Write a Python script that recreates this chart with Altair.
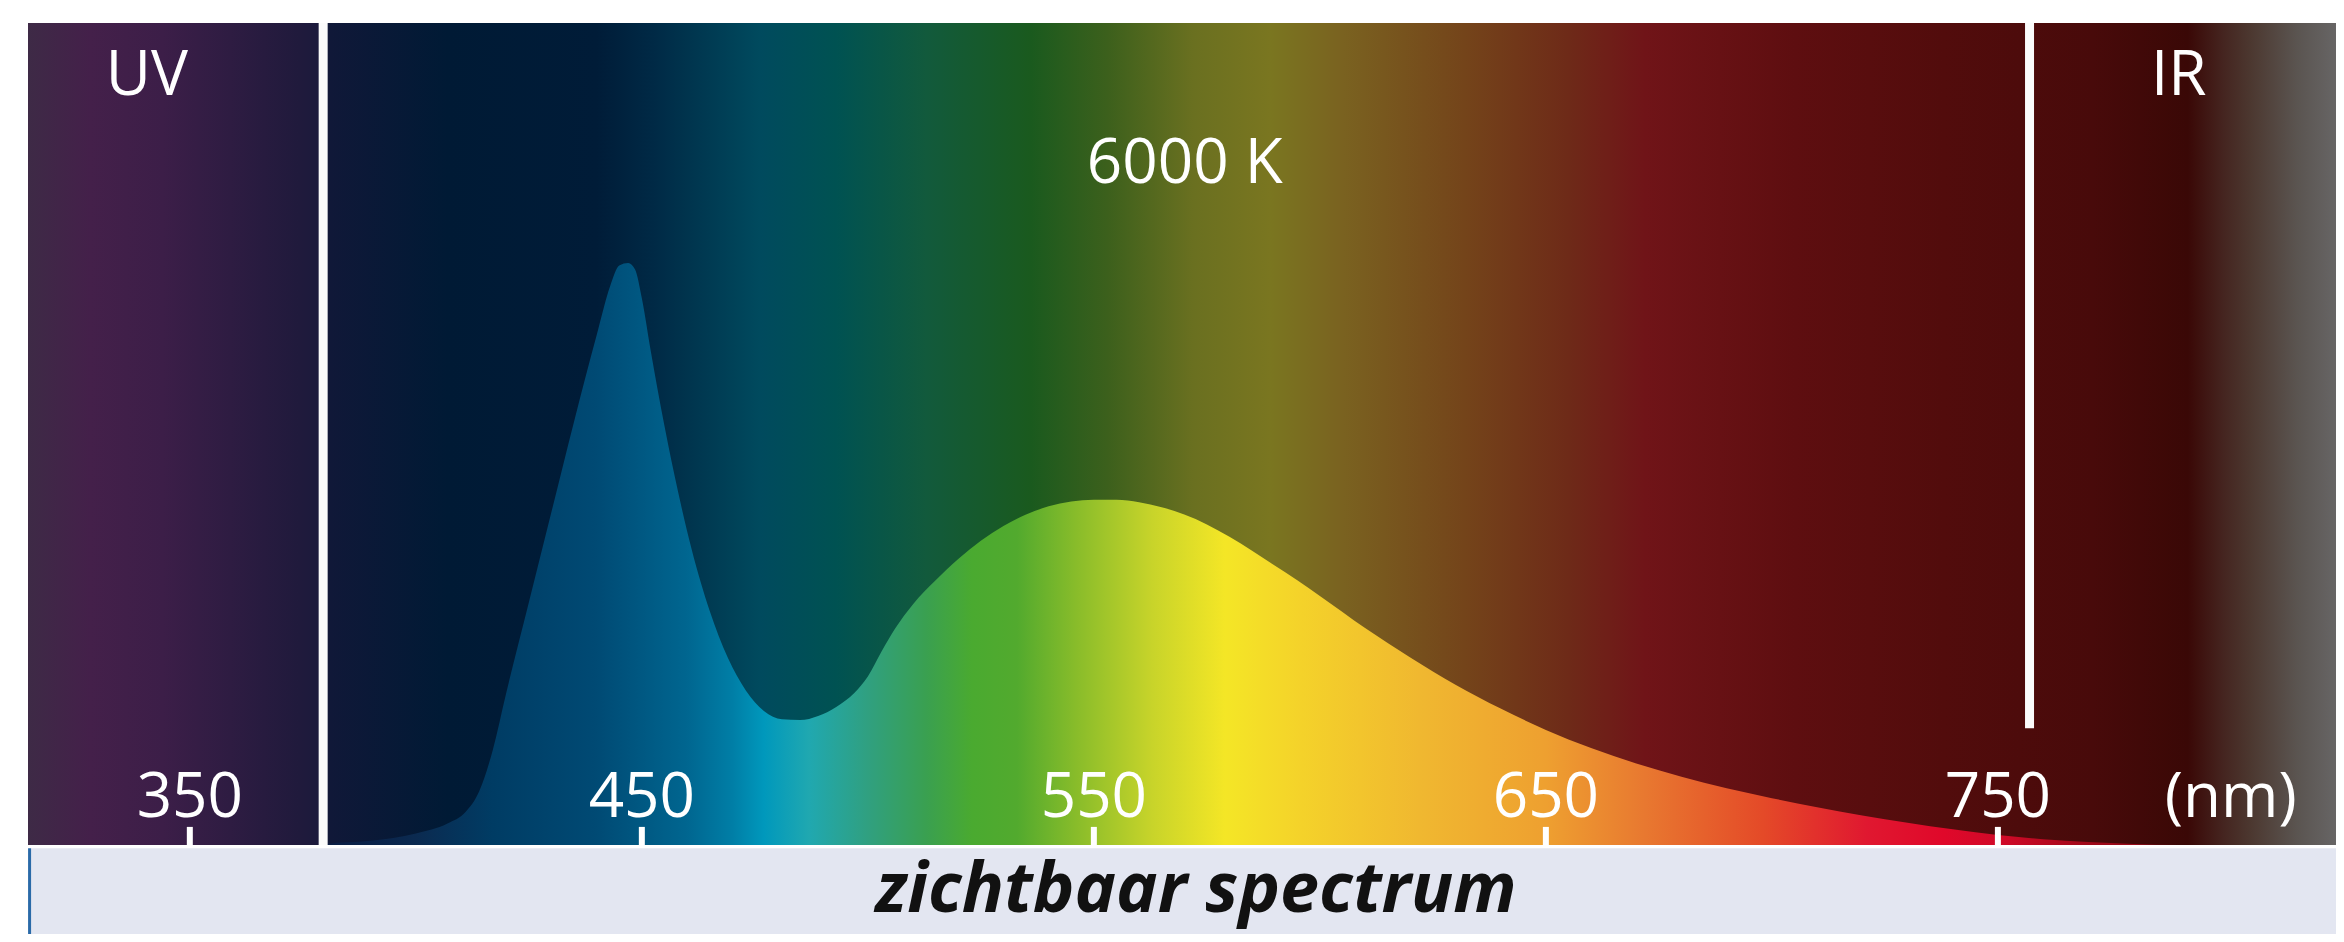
import altair as alt
import pandas as pd

# ---------------- data ----------------
x_domain = [314.2, 824.8]          # wavelength range shown (nm)
y_domain = [-10.83, 100]           # relative intensity (band below 0)

tick_values = [350, 450, 550, 650, 750]
tick_labels = ["350", "450", "550", "650", "750"]
tick_bottom, tick_top, tick_label_val = -0.24, 2.2, 3.4

uv_limit = 379.5
ir_limit = 757.0
ir_line_bottom = 14.2

curve_nm = [314.2, 379.5, 380, 390, 400, 407, 411, 414, 417, 420, 425, 430, 435, 440,
            443, 445, 447, 448.5, 450, 452, 455, 458, 461, 465, 469, 473, 477, 481,
            485, 489, 493, 497, 500, 503, 506, 510, 515, 520, 525, 530, 535, 540,
            545, 550, 555, 560, 565, 570, 575, 580, 585, 590, 595, 600, 610, 620,
            630, 640, 650, 660, 670, 680, 690, 700, 710, 720, 730, 740, 750, 760,
            770, 780, 790, 824.8]
curve_val = [0, 0, 0.1, 0.5, 1.4, 2.6, 4.0, 6.5, 11.5, 18.5, 29.5, 40.5, 51.5, 62.0,
             68.0, 70.5, 70.8, 70.0, 66.5, 60.0, 51.0, 43.0, 36.0, 28.5, 22.8, 18.8, 16.3, 15.3,
             15.2, 15.7, 16.8, 18.5, 20.5, 23.5, 26.3, 29.3, 32.2, 34.8, 37.0, 38.8, 40.2, 41.2,
             41.8, 42.0, 42.0, 41.7, 41.1, 40.2, 39.0, 37.5, 35.8, 34.0, 32.2, 30.3, 26.4, 22.8,
             19.5, 16.6, 14.0, 11.8, 9.9, 8.3, 6.9, 5.7, 4.6, 3.6, 2.7, 1.9, 1.2, 0.7,
             0.35, 0.12, 0, 0]

bg_nm = [314.2, 328, 344, 374, 379.5, 381, 407, 440, 453, 476, 493, 513, 536, 553,
         572, 589, 605, 632, 655, 672, 705, 738, 771, 792, 800, 806, 816, 824.8]
bg_color = ["#3e2a46", "#44204a", "#3c1e48", "#201a3c", "#1a1a3c", "#101838", "#001a35",
            "#001c38", "#002a46", "#004a5e", "#005252", "#125a3c", "#1a5a1e", "#3c601c",
            "#6a7020", "#7a7620", "#7a6220", "#74441a", "#6e2a18", "#701418", "#5e0e10",
            "#520c0c", "#480a0a", "#3a0806", "#452520", "#4c3830", "#5a5450", "#676565"]

fill_nm = [314.2, 380, 400, 417, 440, 460, 470, 477, 487, 500, 513, 523, 533, 546, 563,
           579, 596, 622, 650, 672, 698, 721, 738, 751, 770, 824.8]
fill_color = ["#0a1d44", "#0a1d44", "#0b2a50", "#003c64", "#004a74", "#006690", "#007ea6",
              "#0098bc", "#20a8b0", "#30a080", "#3aa050", "#4aaa30", "#52aa2e", "#88bc2a",
              "#c8d42a", "#f4e626", "#f4d22a", "#f0b830", "#eea030", "#e87830", "#e44a28",
              "#e01830", "#e0082a", "#d00a28", "#a00818", "#800818"]

labels_top = ["UV", "IR"]
labels_top_nm = [340.5, 790.0]
labels_top_val = [91.2, 91.2]

temp_label = "6000 K"
temp_nm, temp_val = 570.1, 80.5

unit_label = "(nm)"
unit_nm, unit_val = 801.5, 3.4

band_label = "zichtbaar spectrum"
band_nm, band_val = 572.6, -8.1

FONT = "Open Sans"

# ---------------- helpers ----------------
span = x_domain[1] - x_domain[0]


def grad(nms, cols):
    return alt.Gradient(
        gradient="linear", x1=0, x2=1, y1=0, y2=0,
        stops=[alt.GradientStop(offset=round((n - x_domain[0]) / span, 5), color=c)
               for n, c in zip(nms, cols)])


xs = alt.Scale(domain=x_domain, nice=False, zero=False)
ys = alt.Scale(domain=y_domain, nice=False, zero=False)


def X(field):
    return alt.X(field, scale=xs, axis=None)


def Y(field):
    return alt.Y(field, scale=ys, axis=None)


# background spectrum (dimmed)
bg_df = pd.DataFrame({"x": [x_domain[0]], "x2": [x_domain[1]], "y": [0], "y2": [100]})
bg = alt.Chart(bg_df).mark_rect(fill=grad(bg_nm, bg_color), opacity=1).encode(
    x=X("x:Q"), x2="x2:Q", y=Y("y:Q"), y2="y2:Q")

# light band below
band_df = pd.DataFrame({"x": [x_domain[0]], "x2": [x_domain[1]], "y": [y_domain[0]], "y2": [-0.4]})
band = alt.Chart(band_df).mark_rect(fill="#e3e6f1").encode(
    x=X("x:Q"), x2="x2:Q", y=Y("y:Q"), y2="y2:Q")

edge_df = pd.DataFrame({"x": [x_domain[0] + 0.35], "y": [y_domain[0]], "y2": [-0.4]})
edge = alt.Chart(edge_df).mark_rule(color="#2a6aa8", strokeWidth=3).encode(
    x=X("x:Q"), y=Y("y:Q"), y2="y2:Q")

# emission curve (bright spectrum)
curve_df = pd.DataFrame({"nm": curve_nm, "val": curve_val, "base": [0] * len(curve_nm)})
area = alt.Chart(curve_df).mark_area(fill=grad(fill_nm, fill_color), opacity=1,
                                     interpolate="monotone").encode(
    x=X("nm:Q"), y=Y("val:Q"), y2="base:Q")

# UV / IR boundaries
lines_df = pd.DataFrame({"nm": [uv_limit, ir_limit], "top": [100, 100],
                         "bot": [0, ir_line_bottom]})
lines = alt.Chart(lines_df).mark_rule(color="#fbfbfb", strokeWidth=9).encode(
    x=X("nm:Q"), y=Y("top:Q"), y2="bot:Q")

# wavelength ticks and labels
ticks_df = pd.DataFrame({"nm": tick_values, "lab": tick_labels,
                         "b": [tick_bottom] * len(tick_values),
                         "t": [tick_top] * len(tick_values),
                         "lv": [tick_label_val] * len(tick_values)})
ticks = alt.Chart(ticks_df).mark_rule(color="white", strokeWidth=6).encode(
    x=X("nm:Q"), y=Y("b:Q"), y2="t:Q")
tick_txt = alt.Chart(ticks_df).mark_text(color="white", font=FONT, fontSize=62,
                                         align="center", baseline="alphabetic").encode(
    x=X("nm:Q"), y=Y("lv:Q"), text="lab:N")

# texts
white_df = pd.DataFrame({"t": labels_top + [temp_label, unit_label],
                         "nm": labels_top_nm + [temp_nm, unit_nm],
                         "val": labels_top_val + [temp_val, unit_val]})
white_txt = alt.Chart(white_df).mark_text(color="white", font=FONT, fontSize=62,
                                          align="center", baseline="alphabetic").encode(
    x=X("nm:Q"), y=Y("val:Q"), text="t:N")

band_df2 = pd.DataFrame({"t": [band_label], "nm": [band_nm], "val": [band_val]})
band_txt = alt.Chart(band_df2).mark_text(color="#111111", font=FONT, fontSize=70,
                                         fontWeight="bold", fontStyle="italic",
                                         align="center", baseline="alphabetic").encode(
    x=X("nm:Q"), y=Y("val:Q"), text="t:N")

chart = alt.layer(bg, band, edge, area, lines, ticks, tick_txt, white_txt, band_txt).properties(
    width=2308, height=911,
    padding={"left": 20, "top": 15, "right": 0, "bottom": 0},
    autosize=alt.AutoSizeParams(type="none"),
    background="white",
).configure_view(stroke=None)

chart.save("out.html", embed_options={"renderer": "svg", "actions": False})
